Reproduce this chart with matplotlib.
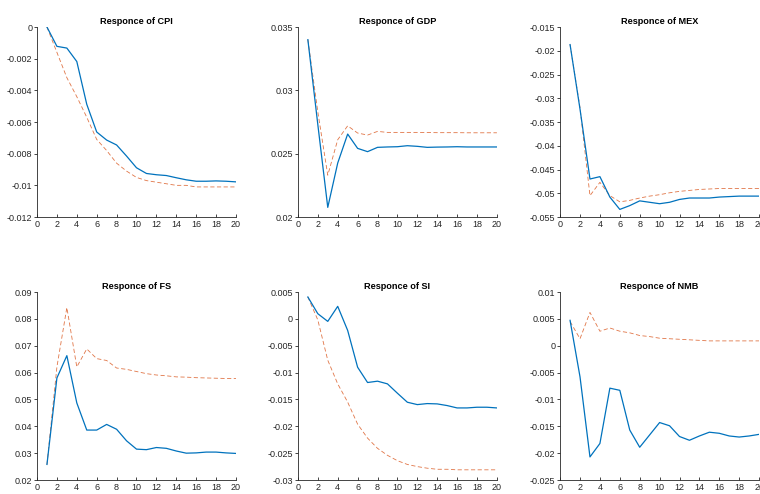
import numpy as np
import matplotlib
matplotlib.use("Agg")
import matplotlib.pyplot as plt

# periods
periods = list(range(1, 21))

# responses (solid blue) and bands (dashed orange)
cpi_resp = [0, -0.00122, -0.00133, -0.00218, -0.00488, -0.00663, -0.00714, -0.00745, -0.00815, -0.00889,
            -0.00925, -0.00933, -0.00938, -0.00952, -0.00965, -0.00974, -0.00974, -0.00972, -0.00974, -0.00978]
cpi_band = [0, -0.0016, -0.0032, -0.0044, -0.0057, -0.0071, -0.0078, -0.0086, -0.0091, -0.0095,
            -0.0097, -0.0098, -0.0099, -0.0100, -0.0100, -0.0101, -0.0101, -0.0101, -0.0101, -0.0101]

gdp_resp = [0.034, 0.0273, 0.02076, 0.02426, 0.02655, 0.02542, 0.02516, 0.0255, 0.02553, 0.02555,
            0.02563, 0.02558, 0.0255, 0.02552, 0.02553, 0.02555, 0.02553, 0.02553, 0.02553, 0.02553]
gdp_band = [0.034, 0.0283, 0.0233, 0.0261, 0.0272, 0.02663, 0.02647, 0.02676, 0.02668, 0.02668,
            0.02668, 0.02668, 0.02667, 0.02666, 0.02666, 0.02666, 0.02665, 0.02665, 0.02665, 0.02665]

mex_resp = [-0.0187, -0.0323, -0.047, -0.0465, -0.0508, -0.0534, -0.0526, -0.0516, -0.0519, -0.0522,
            -0.0519, -0.0513, -0.0510, -0.0510, -0.0510, -0.0508, -0.0507, -0.0506, -0.0506, -0.0506]
mex_band = [-0.0187, -0.032, -0.0505, -0.0477, -0.0505, -0.0518, -0.0515, -0.0510, -0.0506, -0.0503,
            -0.0499, -0.0496, -0.0494, -0.0492, -0.0491, -0.0490, -0.0490, -0.0490, -0.0490, -0.0490]

fs_resp = [0.0258, 0.058, 0.0663, 0.0487, 0.0386, 0.0386, 0.0407, 0.0389, 0.0346, 0.0315,
           0.0313, 0.0321, 0.0318, 0.0308, 0.0300, 0.0301, 0.0304, 0.0304, 0.0301, 0.0299]
fs_band = [0.0258, 0.0621, 0.0842, 0.0621, 0.0688, 0.0652, 0.0645, 0.0617, 0.0612, 0.0604,
           0.0596, 0.0591, 0.0588, 0.0584, 0.0583, 0.0581, 0.0580, 0.0579, 0.0578, 0.0578]

si_resp = [0.00407, 0.00096, -0.00047, 0.00233, -0.00215, -0.0090, -0.01185, -0.0116, -0.0121, -0.01384,
           -0.01552, -0.01596, -0.01577, -0.01583, -0.01614, -0.01658, -0.01658, -0.01645, -0.01645, -0.01658]
si_band = [0.00407, -0.0002, -0.0077, -0.0121, -0.0155, -0.0196, -0.0222, -0.0241, -0.0254, -0.0264,
           -0.0271, -0.0275, -0.0278, -0.0280, -0.0280, -0.0281, -0.0281, -0.0281, -0.0281, -0.0281]

nmb_resp = [0.00473, -0.0058, -0.0207, -0.0182, -0.0079, -0.0083, -0.0157, -0.0189, -0.0166, -0.0143,
            -0.0149, -0.0169, -0.0176, -0.0168, -0.0161, -0.0163, -0.0168, -0.0170, -0.0168, -0.0165]
nmb_band = [0.0045, 0.0013, 0.0062, 0.0027, 0.0033, 0.0027, 0.0024, 0.0019, 0.0017, 0.0014,
            0.0013, 0.0012, 0.0011, 0.0010, 0.0009, 0.0009, 0.0009, 0.0009, 0.0009, 0.0009]

panels = [
    ("Responce of CPI", cpi_resp, cpi_band, (-0.012, 0), ["-0.012", "-0.01", "-0.008", "-0.006", "-0.004", "-0.002", "0"]),
    ("Responce of GDP", gdp_resp, gdp_band, (0.02, 0.035), ["0.02", "0.025", "0.03", "0.035"]),
    ("Responce of MEX", mex_resp, mex_band, (-0.055, -0.015), ["-0.055", "-0.05", "-0.045", "-0.04", "-0.035", "-0.03", "-0.025", "-0.02", "-0.015"]),
    ("Responce of FS", fs_resp, fs_band, (0.02, 0.09), ["0.02", "0.03", "0.04", "0.05", "0.06", "0.07", "0.08", "0.09"]),
    ("Responce of SI", si_resp, si_band, (-0.03, 0.005), ["-0.03", "-0.025", "-0.02", "-0.015", "-0.01", "-0.005", "0", "0.005"]),
    ("Responce of NMB", nmb_resp, nmb_band, (-0.025, 0.01), ["-0.025", "-0.02", "-0.015", "-0.01", "-0.005", "0", "0.005", "0.01"]),
]

lefts = [0.0487, 0.392, 0.737]
width = 0.2618
rows = [(0.5607, 0.3846), (0.0283, 0.3806)]

plt.rcParams['font.family'] = ['Liberation Sans', 'DejaVu Sans']
fig = plt.figure(figsize=(7.6, 4.94), dpi=100)
dark = '#262626'

for i, (title, resp, band, ylim, ylabels) in enumerate(panels):
    r, c = divmod(i, 3)
    bottom, height = rows[r]
    ax = fig.add_axes([lefts[c], bottom, width, height])
    ax.plot(periods, band, color='#D95319', linestyle=(0, (5, 3)), linewidth=0.6, alpha=0.8)
    ax.plot(periods, resp, color='#0072BD', linewidth=0.9)
    ax.set_xlim(0, 20)
    ax.set_ylim(*ylim)
    ax.set_xticks(range(0, 21, 2))
    ax.set_yticks(np.linspace(ylim[0], ylim[1], len(ylabels)))
    ax.set_yticklabels(ylabels)
    ax.set_title(title, fontsize=6.6, fontweight='bold', color='black', pad=2.5)
    for s in ['top', 'right']:
        ax.spines[s].set_visible(False)
    for s in ['left', 'bottom']:
        ax.spines[s].set_color(dark)
        ax.spines[s].set_linewidth(0.6)
    ax.tick_params(axis='x', direction='in', length=2.5, width=0.6, labelsize=6.5, colors=dark, pad=2.5)
    ax.tick_params(axis='y', direction='out', length=2, width=0.6, labelsize=6.5, colors=dark, pad=1.5)

fig.savefig('out.png', dpi=100)
